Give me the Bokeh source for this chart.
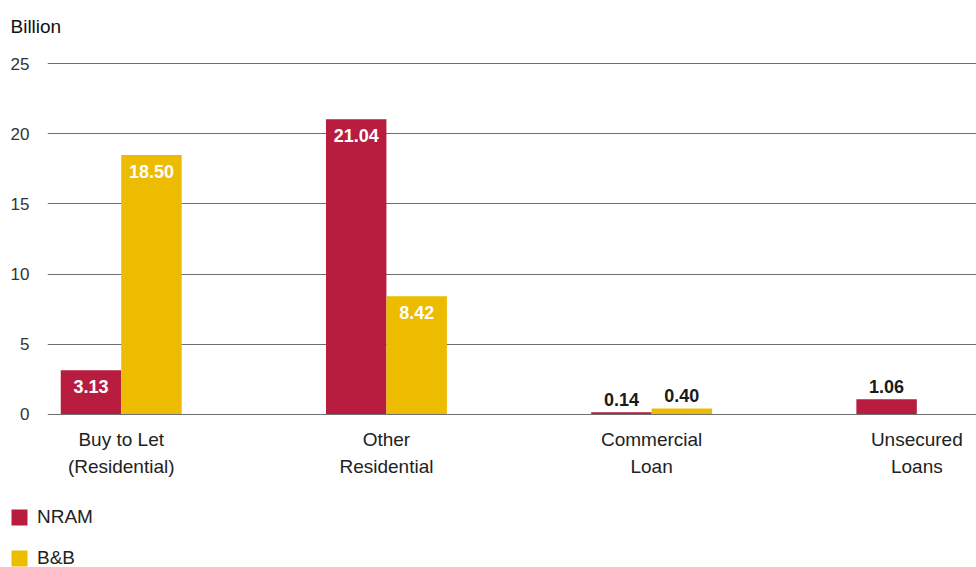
from bokeh.plotting import figure
from bokeh.models import (ColumnDataSource, Range1d, FixedTicker, LabelSet, Legend,
                          LegendItem, Title)
from bokeh.layouts import column
from bokeh.core.properties import value
from bokeh.transform import dodge
from bokeh.embed import file_html
from bokeh.resources import INLINE

categories = ["Buy to Let\n(Residential)", "Other\nResidential", "Commercial\nLoan", "Unsecured\nLoans"]
series_names = ["NRAM", "B&B"]
nram = [3.13, 21.04, 0.14, 1.06]
bb = [18.50, 8.42, 0.40, None]
y_ticks = [0, 5, 10, 15, 20, 25]

RED = "#B81D3F"
YEL = "#EDBB00"
FONT = "Liberation Sans"
BAR_W = 0.228

idx = list(range(len(categories)))

def make_src(vals):
    xs, ys, txt, inside = [], [], [], []
    for i, v in zip(idx, vals):
        if v is None:
            continue
        xs.append(i); ys.append(v); txt.append(f"{v:.2f}")
        inside.append(v >= 2)
    return xs, ys, txt, inside

p = figure(width=976, height=500, x_range=Range1d(-0.278, 3.225), y_range=Range1d(-0.1, 25.1),
           output_backend="svg", toolbar_location=None,
           min_border_left=47, min_border_right=0, min_border_top=62, min_border_bottom=85)
p.outline_line_color = None
p.background_fill_color = "white"
p.border_fill_color = "white"

# legend strip below the chart (its own frame spans the full width)
lg = figure(width=976, height=67, x_range=Range1d(-0.278, 3.225), y_range=Range1d(100, 101),
            output_backend="svg", toolbar_location=None,
            x_axis_location=None, y_axis_location=None,
            min_border_left=0, min_border_right=0, min_border_top=0, min_border_bottom=0)
lg.frame_align = False
lg.outline_line_color = None
lg.xgrid.grid_line_color = None
lg.ygrid.grid_line_color = None

leg_renderers = []
for vals, color, off in [(nram, RED, -BAR_W / 2), (bb, YEL, BAR_W / 2)]:
    xs, ys, txt, inside = make_src(vals)
    src = ColumnDataSource(dict(x=xs, top=ys))
    p.vbar(x=dodge("x", off, range=p.x_range), top="top", width=BAR_W, source=src,
           fill_color=color, line_color=None)
    leg_renderers.append(lg.vbar(x="x", top="top", width=BAR_W, source=src,
                                 fill_color=color, line_color=None))
    in_src = ColumnDataSource(dict(x=[a for a, k in zip(xs, inside) if k],
                                   y=[a for a, k in zip(ys, inside) if k],
                                   t=[a for a, k in zip(txt, inside) if k]))
    out_src = ColumnDataSource(dict(x=[a for a, k in zip(xs, inside) if not k],
                                    y=[a for a, k in zip(ys, inside) if not k],
                                    t=[a for a, k in zip(txt, inside) if not k]))
    p.add_layout(LabelSet(x=dodge("x", off, range=p.x_range), y="y", text="t", source=in_src,
                          text_align="center", text_baseline="top", y_offset=-10,
                          text_color="white", text_font=value(FONT), text_font_size="18px",
                          text_font_style="bold"))
    p.add_layout(LabelSet(x=dodge("x", off, range=p.x_range), y="y", text="t", source=out_src,
                          text_align="center", text_baseline="bottom", y_offset=6,
                          text_color="#1a1a1a", text_font=value(FONT), text_font_size="18px",
                          text_font_style="bold"))

p.xaxis.ticker = FixedTicker(ticks=idx)
p.xaxis.major_label_overrides = {i: c for i, c in zip(idx, categories)}
p.xaxis.axis_line_color = None
p.xaxis.major_tick_line_color = None
p.xaxis.minor_tick_line_color = None
p.xaxis.major_label_standoff = 7
p.xaxis.major_label_text_font = FONT
p.xaxis.major_label_text_font_size = "19px"
p.xaxis.major_label_text_color = "#222222"
p.xaxis.major_label_text_line_height = 1.3

p.yaxis.ticker = FixedTicker(ticks=y_ticks)
p.yaxis.axis_line_color = None
p.yaxis.major_tick_line_color = None
p.yaxis.minor_tick_line_color = None
p.yaxis.major_label_standoff = 12
p.yaxis.major_label_text_font = FONT
p.yaxis.major_label_text_font_size = "17px"
p.yaxis.major_label_text_color = "#333333"

p.xgrid.grid_line_color = None
p.ygrid.ticker = FixedTicker(ticks=y_ticks)
p.ygrid.grid_line_color = "#707070"
p.ygrid.grid_line_width = 1

# spacer title next to the frame, then the "Billion" unit title above it
spacer = Title(text=" ", standoff=23, text_font_size="1px")
unit_title = Title(text="Billion", align="left", offset=-37, standoff=0,
                   text_font=FONT, text_font_size="19px", text_font_style="normal",
                   text_color="#111111")
p.add_layout(spacer, "above")
p.add_layout(unit_title, "above")

legend = Legend(items=[LegendItem(label=n, renderers=[r]) for n, r in zip(series_names, leg_renderers)],
                location=(9, -2), orientation="vertical",
                glyph_width=20, glyph_height=20, label_height=20, spacing=19,
                padding=0, margin=0, border_line_color=None, background_fill_alpha=0,
                label_standoff=8, label_text_font=FONT, label_text_font_size="19px",
                label_text_color="#222222")
lg.add_layout(legend, "center")

open("out.html", "w").write(file_html(column(p, lg, spacing=0), INLINE))
